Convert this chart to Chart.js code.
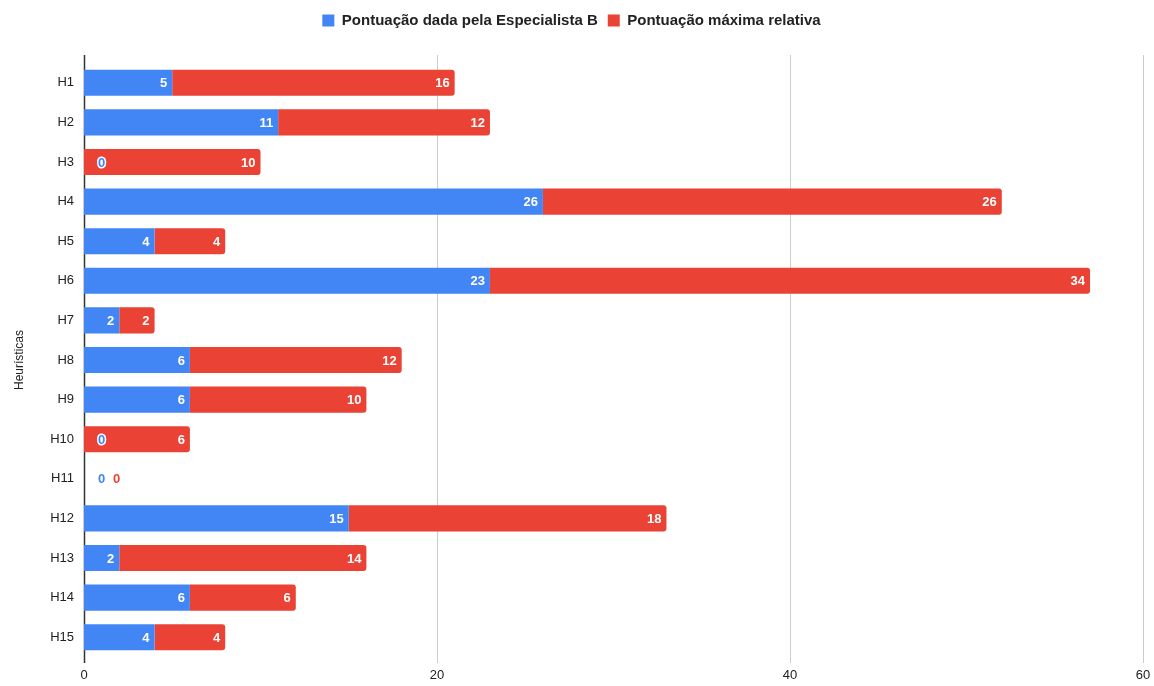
<!DOCTYPE html>
<html>
<head>
<meta charset="utf-8">
<script src="https://cdn.jsdelivr.net/npm/chart.js@4"></script>
<style>
  html, body { margin: 0; padding: 0; background: #fff; }
  #wrap { width: 1154px; height: 686px; }
</style>
</head>
<body>
<div id="wrap"><canvas id="heurChart"></canvas></div>
<script>
const heuristicas = ['H1','H2','H3','H4','H5','H6','H7','H8','H9','H10','H11','H12','H13','H14','H15'];
const pontosEspecialista = [5, 11, 0, 26, 4, 23, 2, 6, 6, 0, 0, 15, 2, 6, 4];
const pontosMaximos = [16, 12, 10, 26, 4, 34, 2, 12, 10, 6, 0, 18, 14, 6, 4];
const xTicks = [0, 20, 40, 60];

const AZUL = '#4285f4';
const VERMELHO = '#ea4335';
const FONTE = '"Liberation Sans", Arial, sans-serif';

// a bit more room under the legend
const legendGap = {
  id: 'legendGap',
  beforeInit(chart) {
    const fit = chart.legend.fit;
    chart.legend.fit = function () {
      fit.bind(chart.legend)();
      this.height += 25;
    };
  }
};

// grid lines and the zero axis, a little longer than the plot area
const gridLines = {
  id: 'gridLines',
  beforeDatasetsDraw(chart) {
    const { ctx, chartArea } = chart;
    const x = chart.scales.x;
    const top = chartArea.top - 8, bottom = chartArea.bottom + 6;
    ctx.save();
    xTicks.forEach(v => {
      const px = Math.round(x.getPixelForValue(v)) + 0.5;
      ctx.beginPath();
      ctx.strokeStyle = v === 0 ? '#333' : '#cccccc';
      ctx.lineWidth = v === 0 ? 1.5 : 1;
      ctx.moveTo(px, top);
      ctx.lineTo(px, bottom);
      ctx.stroke();
    });
    ctx.restore();
  }
};

// value labels at the end of every bar segment
const valueLabels = {
  id: 'valueLabels',
  afterDatasetsDraw(chart) {
    const { ctx } = chart;
    const x0 = chart.scales.x.getPixelForValue(0);
    const zeros = {};
    ctx.save();
    ctx.font = 'bold 13px ' + FONTE;
    ctx.textBaseline = 'middle';
    chart.data.datasets.forEach((ds, di) => {
      const meta = chart.getDatasetMeta(di);
      meta.data.forEach((bar, i) => {
        const v = ds.data[i];
        if (v > 0) {
          ctx.textAlign = 'right';
          ctx.fillStyle = '#fff';
          ctx.fillText(String(v), bar.x - 5, bar.y + 1);
        } else {
          const k = zeros[i] || 0;
          zeros[i] = k + 1;
          const px = x0 + 14 + 15 * k;
          ctx.textAlign = 'left';
          ctx.lineJoin = 'round';
          ctx.lineWidth = 3;
          ctx.strokeStyle = '#fff';
          ctx.strokeText('0', px, bar.y + 1);
          ctx.fillStyle = ds.backgroundColor;
          ctx.fillText('0', px, bar.y + 1);
        }
      });
    });
    ctx.restore();
  }
};

new Chart(document.getElementById('heurChart'), {
  type: 'bar',
  data: {
    labels: heuristicas,
    datasets: [
      {
        label: 'Pontuação dada pela Especialista B',
        data: pontosEspecialista,
        backgroundColor: AZUL,
        borderRadius: 0,
        barPercentage: 0.66,
        categoryPercentage: 1
      },
      {
        label: 'Pontuação máxima relativa',
        data: pontosMaximos,
        backgroundColor: VERMELHO,
        borderRadius: 3,
        barPercentage: 0.66,
        categoryPercentage: 1
      }
    ]
  },
  options: {
    indexAxis: 'y',
    responsive: true,
    maintainAspectRatio: false,
    animation: false,
    layout: { padding: { top: 3, right: 11, bottom: 0, left: 0 } },
    plugins: {
      legend: {
        position: 'top',
        labels: {
          boxWidth: 12,
          boxHeight: 12,
          padding: 10,
          color: '#222',
          font: { family: FONTE, size: 15, weight: 'bold' }
        }
      },
      tooltip: { enabled: false }
    },
    scales: {
      x: {
        stacked: true,
        min: 0,
        max: 60,
        afterBuildTicks(s) { s.ticks = xTicks.map(v => ({ value: v })); },
        afterFit(s) {
          s.height = 29;
          s.paddingLeft = 0;
          s.paddingRight = 0;
        },
        grid: { display: false, drawTicks: false },
        border: { display: false },
        ticks: {
          padding: 11,
          color: '#222',
          font: { family: FONTE, size: 13 }
        }
      },
      y: {
        stacked: true,
        afterFit(s) { s.width = 84; },
        grid: { display: false, drawTicks: false },
        border: { display: false },
        ticks: {
          padding: 10,
          color: '#222',
          font: { family: FONTE, size: 13 }
        },
        title: {
          display: true,
          text: 'Heurísticas',
          color: '#222',
          padding: { top: 12, bottom: 0 },
          font: { family: FONTE, size: 12 }
        }
      }
    }
  },
  plugins: [legendGap, gridLines, valueLabels]
});
</script>
</body>
</html>
